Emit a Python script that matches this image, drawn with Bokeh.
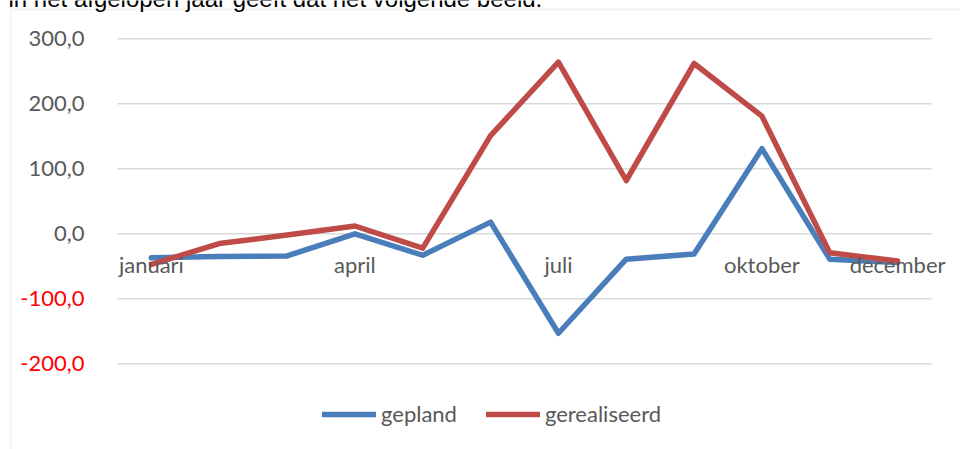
from bokeh.plotting import figure
from bokeh.models import (Range1d, FixedTicker, CustomJSTickFormatter, LinearAxis,
                          Legend, LegendItem, Label, BoxAnnotation)
from bokeh.embed import file_html
from bokeh.resources import INLINE

# ---------------- data ----------------
months = ["januari", "februari", "maart", "april", "mei", "juni", "juli",
          "augustus", "september", "oktober", "november", "december"]
shown_month_idx = [0, 3, 6, 9, 11]
gepland = [-37, -35, -34, 0, -33, 18, -153, -39, -31, 131, -39, -44]
gerealiseerd = [-47, -15, -2, 12, -22, 151, 264, 82, 262, 181, -29, -42]
pos_ticks = [0, 100, 200, 300]
neg_ticks = [-100, -200]
series_names = ["gepland", "gerealiseerd"]
caption = "in het afgelopen jaar geeft dat het volgende beeld."

# ---------------- layout ----------------
W, H = 960, 449
FONT = "Lato"
GRAY = "#595959"
GRID = "#d9d9d9"
FS = "22px"

# pixel geometry of the plot area (page pixels)
px_left, px_right = 117.0, 931.0      # x = -0.5 .. 11.5
py_top, py_bot = 38.3, 363.3          # y = 300 .. -200
n = len(months)
ux = (px_right - px_left) / n
uy = (py_bot - py_top) / (max(pos_ticks) - min(neg_ticks))
x0 = -0.5 - px_left / ux
x1 = -0.5 + (W - px_left) / ux
y1 = max(pos_ticks) + py_top / uy
y0 = max(pos_ticks) - (H - py_top) / uy

def dx(px):
    return x0 + px / ux

def dy(py):
    return y1 - py / uy

xs = list(range(n))

p = figure(width=W, height=H, output_backend="svg", toolbar_location=None,
           x_range=Range1d(x0, x1), y_range=Range1d(y0, y1),
           min_border=0, min_border_left=0, min_border_right=0,
           min_border_top=0, min_border_bottom=0)
p.outline_line_color = None
p.background_fill_color = "white"
p.border_fill_color = "white"
p.xgrid.visible = False
p.ygrid.visible = False

fmt = CustomJSTickFormatter(code="return tick.toFixed(1).replace('.', ',');")

# gray y axis (positive ticks)
ya = p.yaxis[0]
ya.fixed_location = -0.5
ya.ticker = FixedTicker(ticks=pos_ticks)
ya.formatter = fmt
# red y axis (negative ticks)
yb = LinearAxis(fixed_location=-0.5, ticker=FixedTicker(ticks=neg_ticks), formatter=fmt)
p.add_layout(yb, "left")
for ax, col in ((ya, GRAY), (yb, "#ff0000")):
    ax.axis_line_color = None
    ax.major_tick_line_color = None
    ax.minor_tick_line_color = None
    ax.major_label_standoff = 27
    ax.major_label_text_font = FONT
    ax.major_label_text_font_size = FS
    ax.major_label_text_color = col

# x axis crossing at 0
xa = p.xaxis[0]
xa.fixed_location = 0
xa.ticker = FixedTicker(ticks=shown_month_idx)
xa.major_label_overrides = {i: months[i] for i in shown_month_idx}
xa.axis_line_color = None
xa.major_tick_line_color = None
xa.minor_tick_line_color = None
xa.major_label_standoff = 11
xa.major_label_text_font = FONT
xa.major_label_text_font_size = FS
xa.major_label_text_color = GRAY

# horizontal gridlines over the plot area only
grid_ticks = pos_ticks + neg_ticks
p.segment(x0=[-0.5] * len(grid_ticks), x1=[n - 0.5] * len(grid_ticks),
          y0=grid_ticks, y1=grid_ticks, line_color=GRID, line_width=1.5)

# chart box border (left and top edges)
p.add_layout(BoxAnnotation(left=dx(10), top=dy(9), right=x1 + 5, bottom=y0 - 50,
                           fill_alpha=0, line_color=GRID, line_width=2))

# caption of the surrounding document (cut off at top)
p.add_layout(Label(x=dx(8), y=dy(-2), text=caption, text_align="left",
                   text_baseline="alphabetic", text_font="Liberation Sans",
                   text_font_size="24px", text_color="#000000"))

r1 = p.line(xs, gepland, line_color="#4a7ebb", line_width=5.5,
            line_join="round", line_cap="round")
r2 = p.line(xs, gerealiseerd, line_color="#be4b48", line_width=5.5,
            line_join="round", line_cap="round")

legend = Legend(items=[LegendItem(label=series_names[0], renderers=[r1]),
                       LegendItem(label=series_names[1], renderers=[r2])],
                location=(322, 22), orientation="horizontal",
                glyph_width=54, glyph_height=20, label_standoff=5, spacing=29,
                padding=0, margin=0, border_line_color=None,
                background_fill_alpha=0,
                label_text_font=FONT, label_text_font_size=FS,
                label_text_color=GRAY)
p.add_layout(legend, "center")

open("out.html", "w").write(file_html(p, INLINE))
